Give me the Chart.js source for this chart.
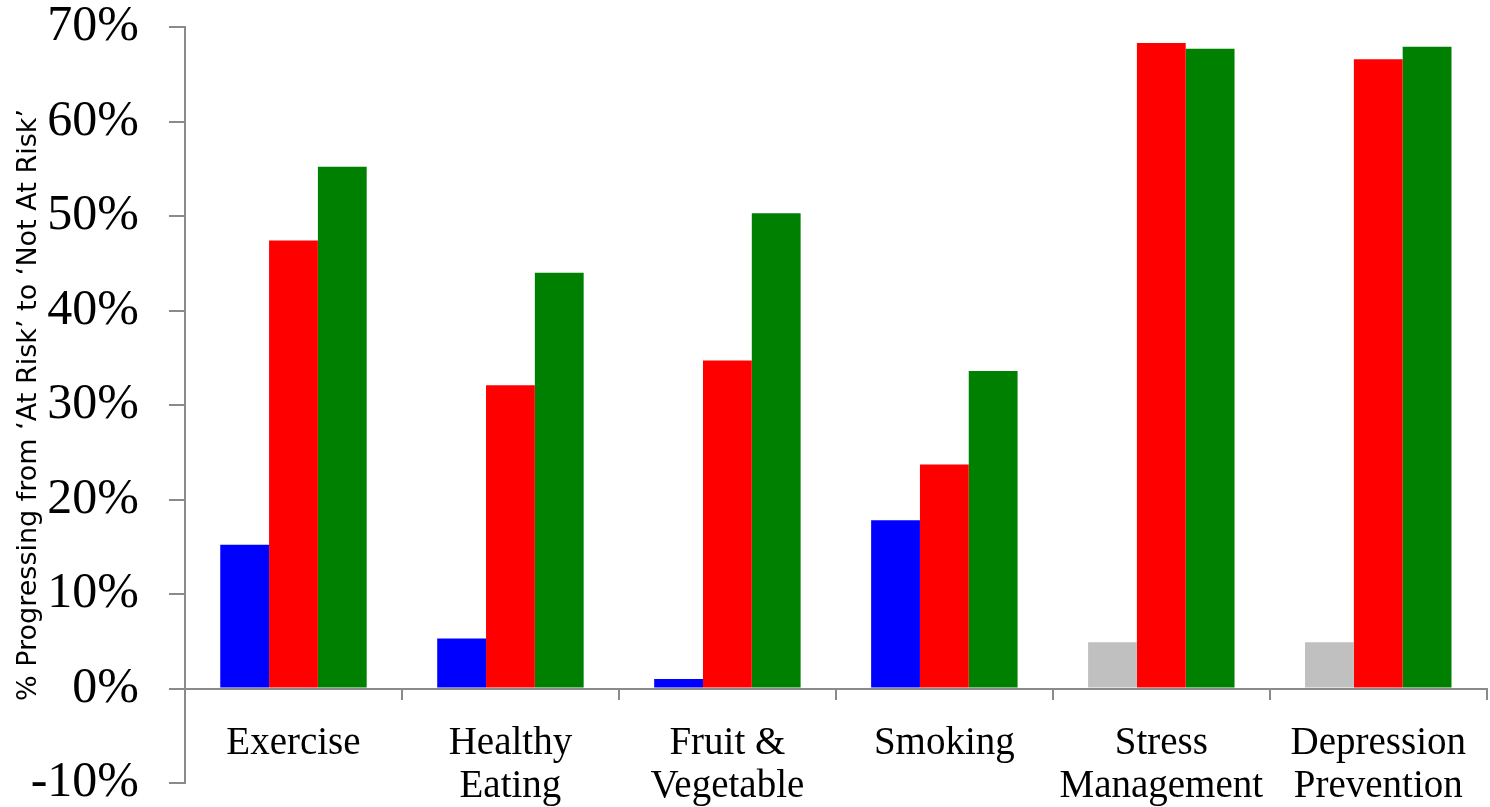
<!DOCTYPE html>
<html>
<head>
<meta charset="utf-8">
<script src="https://cdn.jsdelivr.net/npm/chart.js@4.4.1/dist/chart.umd.min.js"></script>
<style>
  html, body { margin: 0; padding: 0; background: #ffffff; }
  #wrap { width: 1490px; height: 807px; position: relative; }
</style>
</head>
<body>
<div id="wrap"><canvas id="c"></canvas></div>
<script>
const categories = [
  ["Exercise"],
  ["Healthy", "Eating"],
  ["Fruit &", "Vegetable"],
  ["Smoking"],
  ["Stress", "Management"],
  ["Depression", "Prevention"]
];
const baselineValues = [15.2, 5.3, 1.0, 17.8, 4.9, 4.9];
const redValues = [47.4, 32.1, 34.7, 23.7, 68.3, 66.6];
const greenValues = [55.2, 44.0, 50.3, 33.6, 67.7, 67.9];
const yTickMin = -10;
const yTickMax = 70;
const yTickStep = 10;
const yAxisTitle = "% Progressing from \u2018At Risk\u2019 to \u2018Not At Risk\u2019";

const axisGray = '#8a8a8a';
const baselineColors = ['#0000ff', '#0000ff', '#0000ff', '#0000ff', '#c0c0c0', '#c0c0c0'];

new Chart(document.getElementById('c'), {
  type: 'bar',
  data: {
    labels: categories,
    datasets: [
      { label: 'Baseline', data: baselineValues, backgroundColor: baselineColors, borderWidth: 0 },
      { label: 'Red', data: redValues, backgroundColor: '#ff0000', borderWidth: 0 },
      { label: 'Green', data: greenValues, backgroundColor: '#008000', borderWidth: 0 }
    ]
  },
  options: {
    responsive: true,
    maintainAspectRatio: false,
    animation: false,
    events: [],
    layout: { padding: 0 },
    plugins: {
      legend: { display: false },
      tooltip: { enabled: false },
      title: { display: false }
    },
    datasets: {
      bar: { categoryPercentage: 0.675, barPercentage: 1.0 }
    },
    scales: {
      x: {
        position: { y: 0 },
        grid: {
          display: true,
          offset: true,
          drawOnChartArea: false,
          drawTicks: true,
          tickLength: 10,
          color: axisGray,
          lineWidth: 2
        },
        border: { display: true, color: axisGray, width: 2 },
        ticks: {
          color: '#000000',
          padding: 24,
          maxRotation: 0,
          autoSkip: false,
          font: { family: '"Liberation Serif", "DejaVu Serif", serif', size: 39, lineHeight: 1.1 }
        }
      },
      y: {
        min: yTickMin,
        max: yTickMax,
        afterFit: (scale) => {
          scale.width = 185;
          scale.paddingTop = 27;
          scale.paddingBottom = 24;
        },
        grid: {
          display: true,
          drawOnChartArea: false,
          drawTicks: true,
          tickLength: 16,
          color: axisGray,
          lineWidth: 2
        },
        border: { display: true, color: axisGray, width: 2 },
        ticks: {
          stepSize: yTickStep,
          color: '#000000',
          padding: 30,
          callback: (v) => v + '%',
          font: { family: '"Liberation Serif", "DejaVu Serif", serif', size: 50, lineHeight: 1.0 }
        },
        title: {
          display: true,
          text: yAxisTitle,
          color: '#000000',
          padding: { top: 13, bottom: 0 },
          font: { family: '"DejaVu Sans", "Open Sans", sans-serif', size: 27 }
        }
      }
    }
  }
});
</script>
</body>
</html>
